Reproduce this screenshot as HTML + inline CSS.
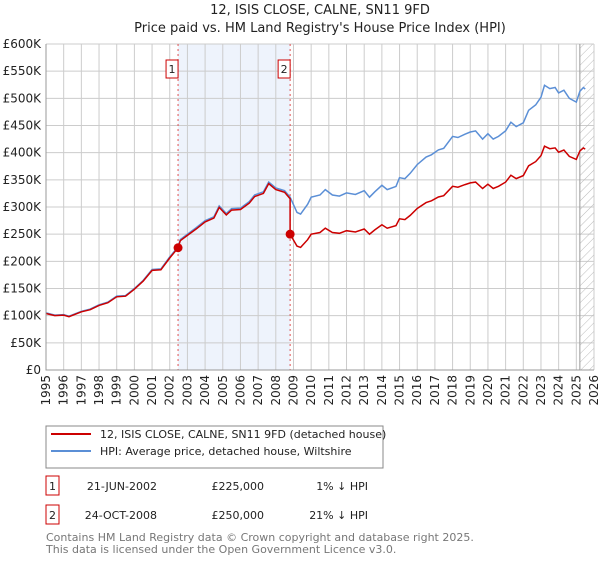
<!DOCTYPE html>
<html><head><meta charset="utf-8"><style>
body{margin:0;background:#fff;}
svg{font-family:"DejaVu Sans","Liberation Sans",sans-serif;}
</style></head><body>
<svg id="c" width="600" height="560" viewBox="0 0 600 560" xmlns="http://www.w3.org/2000/svg">
<text x="320" y="14" text-anchor="middle" font-size="13" fill="#222">12, ISIS CLOSE, CALNE, SN11 9FD</text>
<text x="320" y="32" text-anchor="middle" font-size="13" fill="#222">Price paid vs. HM Land Registry's House Price Index (HPI)</text>
<g id="grid"></g><g id="marks"></g><g id="axes"></g>
<g>
<rect x="46" y="426" width="337" height="42" fill="#fff" stroke="#888"/>
<line x1="51" y1="434" x2="91" y2="434" stroke="#cc0000" stroke-width="2"/>
<text x="100" y="438" font-size="11" fill="#222">12, ISIS CLOSE, CALNE, SN11 9FD (detached house)</text>
<line x1="51" y1="451" x2="91" y2="451" stroke="#5b8fd6" stroke-width="2"/>
<text x="100" y="455" font-size="11" fill="#222">HPI: Average price, detached house, Wiltshire</text>
</g>
<g font-size="11" fill="#222">
<rect x="46" y="476" width="13" height="19" fill="#fff" stroke="#cc0000"/>
<text x="52.5" y="490" text-anchor="middle">1</text>
<text x="157" y="490" text-anchor="end">21-JUN-2002</text>
<text x="264" y="490" text-anchor="end">£225,000</text>
<text x="368" y="490" text-anchor="end">1% ↓ HPI</text>
<rect x="46" y="505" width="13" height="19" fill="#fff" stroke="#cc0000"/>
<text x="52.5" y="519" text-anchor="middle">2</text>
<text x="157" y="519" text-anchor="end">24-OCT-2008</text>
<text x="264" y="519" text-anchor="end">£250,000</text>
<text x="368" y="519" text-anchor="end">21% ↓ HPI</text>
</g>
<text x="46" y="541" font-size="11" fill="#777">Contains HM Land Registry data © Crown copyright and database right 2025.</text>
<text x="46" y="553" font-size="11" fill="#777">This data is licensed under the Open Government Licence v3.0.</text>
</svg>
<script>
const hpiYears=[1995.0,1995.5,1996.0,1996.3,1997.0,1997.5,1998.0,1998.5,1999.0,1999.5,2000.0,2000.5,2001.0,2001.5,2002.0,2002.47,2002.6,2003.0,2003.5,2004.0,2004.5,2004.8,2005.2,2005.5,2006.0,2006.5,2006.8,2007.3,2007.6,2008.0,2008.5,2008.81,2009.2,2009.4,2009.8,2010.0,2010.5,2010.8,2011.2,2011.6,2012.0,2012.5,2013.0,2013.3,2013.6,2014.0,2014.3,2014.8,2015.0,2015.3,2015.6,2016.0,2016.5,2016.8,2017.2,2017.5,2018.0,2018.3,2018.7,2019.0,2019.3,2019.7,2020.0,2020.3,2020.6,2021.0,2021.3,2021.6,2022.0,2022.3,2022.7,2023.0,2023.2,2023.5,2023.8,2024.0,2024.3,2024.6,2025.0,2025.2,2025.4,2025.5];
const hpiValues=[105,101,102,99,108,112,120,125,136,137,150,165,185,186,208,227,240,250,262,275,282,302,288,297,298,310,322,328,346,335,330,318,290,287,305,318,322,332,322,320,326,323,330,318,328,340,332,338,354,352,362,378,392,396,405,408,430,428,434,438,440,425,435,425,430,440,456,448,455,478,488,502,524,518,520,510,515,500,493,513,520,517];
const saleYears=[2002.47,2008.81];
const salePrices=[225,250];
const saleLabels=["1","2"];
const yTicks=[0,50,100,150,200,250,300,350,400,450,500,550,600];
const yTickLabels=["£0","£50K","£100K","£150K","£200K","£250K","£300K","£350K","£400K","£450K","£500K","£550K","£600K"];
const xTicks=[1995,1996,1997,1998,1999,2000,2001,2002,2003,2004,2005,2006,2007,2008,2009,2010,2011,2012,2013,2014,2015,2016,2017,2018,2019,2020,2021,2022,2023,2024,2025,2026];
const dataEnd=2025.2;

const L=46,R=594,T=44,B=370,X0=1995,X1=2026,YMAX=600;
const NS="http://www.w3.org/2000/svg";
const xs=v=>L+(v-X0)/(X1-X0)*(R-L);
const ys=v=>B-v/YMAX*(B-T);
function mk(t,a,p){const e=document.createElementNS(NS,t);for(const k in a)e.setAttribute(k,a[k]);p.appendChild(e);return e;}
const grid=document.getElementById('grid'),marks=document.getElementById('marks'),axes=document.getElementById('axes');
const sh=mk('rect',{x:xs(saleYears[0]),y:T,width:xs(saleYears[1])-xs(saleYears[0]),height:B-T,fill:'#eef3fc'},grid);


yTicks.forEach((v,i)=>{
 const l=mk('line',{x1:L,x2:R,y1:ys(v),y2:ys(v),stroke:'#ccc'},grid);
 
 
 const t=mk('text',{x:L-5,y:ys(v)+4,'text-anchor':'end','font-size':'12',fill:'#222'},axes);
 t.textContent=yTickLabels[i];
 
 
});
xTicks.forEach(v=>{
 const l=mk('line',{x1:xs(v),x2:xs(v),y1:T,y2:B,stroke:'#ccc'},grid);
 
 
 const tx=xs(v)+4, ty=B+5;
 const t=mk('text',{x:tx,y:ty,'text-anchor':'end','font-size':'12',fill:'#222',transform:`rotate(-90 ${tx} ${ty})`},axes);
 t.textContent=v;
 
 
});
const defs=mk('defs',{},grid);
const pat=mk('pattern',{id:'hatch',width:6,height:6,patternUnits:'userSpaceOnUse',patternTransform:'rotate(45)'},defs);
mk('line',{x1:0,y1:0,x2:0,y2:6,stroke:'#bbb','stroke-width':1},pat);
const hr=mk('rect',{x:xs(dataEnd),y:T,width:R-xs(dataEnd),height:B-T,fill:'url(#hatch)'},grid);


const el=mk('line',{x1:xs(dataEnd),x2:xs(dataEnd),y1:T,y2:B,stroke:'#999'},grid);


const ax=mk('path',{d:`M${L} ${T}V${B}H${R}`,fill:'none',stroke:'#999'},axes);


saleYears.forEach((s,i)=>{
 const l=mk('line',{x1:xs(s),x2:xs(s),y1:T,y2:B,stroke:'#e05050','stroke-dasharray':'2,3'},grid);
 
 
 const bx=mk('rect',{x:xs(s)-12,y:60,width:12,height:18,fill:'#fff',stroke:'#cc0000'},axes);
 
 
 const t=mk('text',{x:xs(s)-6,y:73,'text-anchor':'middle','font-size':'11',fill:'#222'},axes);
 t.textContent=saleLabels[i];
 
 
});
const hp=hpiYears.map((y,i)=>`${xs(y).toFixed(1)},${ys(hpiValues[i]).toFixed(1)}`).join(' ');
const hl=mk('polyline',{points:hp,fill:'none',stroke:'#5b8fd6','stroke-width':1.5},marks);


function hpiAt(t){for(let i=1;i<hpiYears.length;i++){if(t<=hpiYears[i]){const f=(t-hpiYears[i-1])/(hpiYears[i]-hpiYears[i-1]);return hpiValues[i-1]+f*(hpiValues[i]-hpiValues[i-1]);}}return hpiValues[hpiValues.length-1];}
const pts=[];
const r0=salePrices[0]/hpiAt(saleYears[0]);
hpiYears.forEach((y,i)=>{
 let k=0;for(let j=0;j<saleYears.length;j++)if(y>=saleYears[j])k=j;
 if(y>=saleYears[1]&&y<saleYears[1]+1e-6){pts.push([y,hpiValues[i]*r0]);}
 const r=salePrices[k]/hpiAt(saleYears[k]);
 pts.push([y,hpiValues[i]*(y<saleYears[0]?r0:r)]);
});
const rl=mk('polyline',{points:pts.map(p=>`${xs(p[0]).toFixed(1)},${ys(p[1]).toFixed(1)}`).join(' '),fill:'none',stroke:'#cc0000','stroke-width':1.5},marks);


saleYears.forEach((s,i)=>{
 const c=mk('circle',{cx:xs(s),cy:ys(salePrices[i]),r:4.5,fill:'#cc0000'},marks);
 
 
});
</script>
</body></html>
